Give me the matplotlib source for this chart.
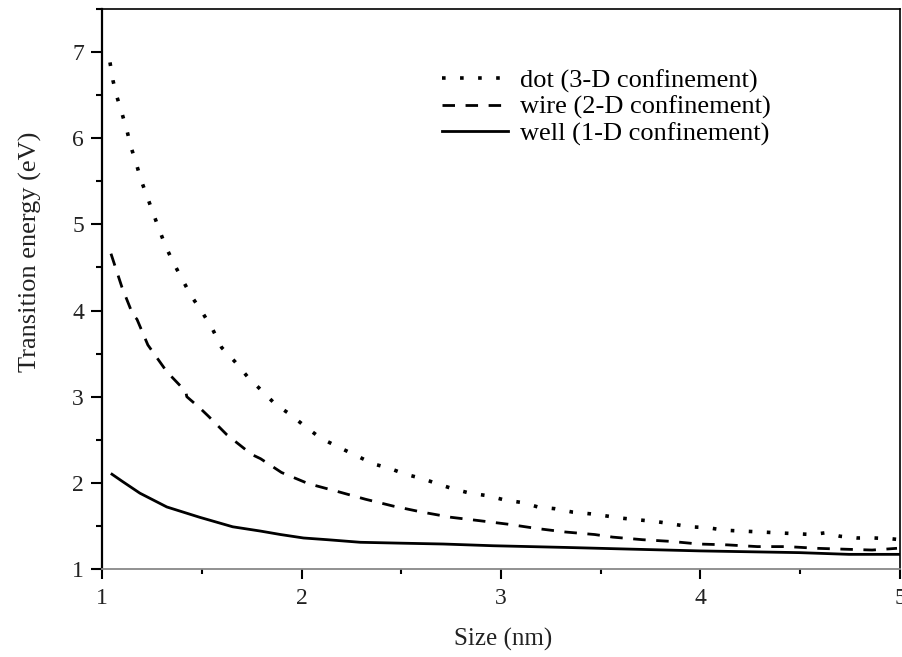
import matplotlib
matplotlib.use("Agg")
import matplotlib.pyplot as plt
from matplotlib.ticker import MultipleLocator

plt.rcParams['font.family'] = ['Liberation Serif', 'DejaVu Serif']

# dot (3-D confinement)
dot_x = [1.04, 1.055, 1.075, 1.1, 1.125, 1.145, 1.17, 1.195, 1.225, 1.255, 1.285, 1.32, 1.355, 1.4,
         1.45, 1.5, 1.555, 1.6, 1.665, 1.73, 1.805, 1.87, 1.94, 2.01, 2.095, 2.19, 2.28, 2.36, 2.44,
         2.52, 2.605, 2.68, 2.76, 2.845, 2.935, 3.02, 3.11, 3.185, 3.27, 3.36, 3.45, 3.515, 3.605,
         3.69, 3.78, 3.865, 3.945, 4.035, 4.12, 4.21, 4.3, 4.385, 4.475, 4.56, 4.625, 4.7, 4.785,
         4.87, 4.96, 5.0]
dot_y = [6.88, 6.67, 6.48, 6.29, 6.09, 5.9, 5.72, 5.52, 5.33, 5.14, 4.95, 4.74, 4.57, 4.37,
         4.16, 3.99, 3.78, 3.57, 3.41, 3.23, 3.06, 2.91, 2.8, 2.67, 2.52, 2.41, 2.31, 2.22, 2.17,
         2.1, 2.05, 1.99, 1.93, 1.88, 1.85, 1.8, 1.77, 1.72, 1.7, 1.66, 1.64, 1.62, 1.59,
         1.57, 1.55, 1.52, 1.49, 1.48, 1.45, 1.44, 1.43, 1.42, 1.41, 1.4, 1.42, 1.38, 1.36,
         1.36, 1.35, 1.34]

# wire (2-D confinement)
wire_x = [1.045, 1.1, 1.155, 1.175, 1.23, 1.325, 1.395, 1.42, 1.425, 1.49, 1.535, 1.625, 1.75,
          1.795, 1.9, 2.035, 2.18, 2.32, 2.46, 2.605, 2.75, 2.895, 3.035, 3.18, 3.32, 3.47, 3.56,
          3.71, 3.855, 3.99, 4.135, 4.285, 4.435, 4.585, 4.72, 4.86, 4.985]
wire_y = [4.66, 4.27, 3.95, 3.9, 3.6, 3.29, 3.12, 3.06, 3.0, 2.87, 2.77, 2.56, 2.33,
          2.28, 2.12, 1.99, 1.9, 1.81, 1.73, 1.66, 1.6, 1.56, 1.52, 1.47, 1.43, 1.4, 1.37,
          1.34, 1.32, 1.29, 1.28, 1.26, 1.26, 1.24, 1.23, 1.22, 1.24]

# well (1-D confinement)
well_x = [1.05, 1.1, 1.19, 1.325, 1.49, 1.655, 1.795, 1.895, 2.01, 2.13, 2.295, 2.495, 2.71,
          2.96, 3.33, 3.66, 4.0, 4.245, 4.495, 4.745, 4.995]
well_y = [2.1, 2.02, 1.88, 1.72, 1.6, 1.49, 1.44, 1.4, 1.36, 1.34, 1.31, 1.3, 1.29,
          1.27, 1.25, 1.23, 1.21, 1.2, 1.19, 1.17, 1.17]

labels = ['dot (3-D confinement)', 'wire (2-D confinement)', 'well (1-D confinement)']

fig = plt.figure(figsize=(9.02, 6.57), dpi=100)
ax = fig.add_axes([102/902, 88/657, 798/902, 560/657])

ax.plot(dot_x, dot_y, color='black', lw=2.6, linestyle=(0, (1.0, 4.0)), label=labels[0])
ax.plot(wire_x, wire_y, color='black', lw=2.0, linestyle=(0, (4.5, 3.8)), label=labels[1])
ax.plot(well_x, well_y, color='black', lw=2.0, label=labels[2])

ax.set_xlim(1, 5)
ax.set_ylim(1, 7.5)
ax.xaxis.set_major_locator(MultipleLocator(1))
ax.xaxis.set_minor_locator(MultipleLocator(0.5))
ax.yaxis.set_major_locator(MultipleLocator(1))
ax.yaxis.set_minor_locator(MultipleLocator(0.5))
ax.set_yticks([1, 2, 3, 4, 5, 6, 7])

ax.tick_params(axis='y', which='major', direction='out', length=8, width=1.5, pad=5,
               labelsize=17, labelcolor='#222222')
ax.tick_params(axis='y', which='minor', direction='out', length=4, width=1.5)
ax.tick_params(axis='x', which='major', direction='out', length=7, width=1.5, pad=7,
               labelsize=17, labelcolor='#222222')
ax.tick_params(axis='x', which='minor', direction='out', length=3.5, width=1.5)

ax.spines['left'].set_linewidth(1.6)
ax.spines['top'].set_linewidth(1.2)
ax.spines['right'].set_linewidth(1.2)
ax.spines['bottom'].set_color('#888888')
ax.spines['bottom'].set_linewidth(1.3)

ax.set_xlabel('Size (nm)', fontsize=18, color='#222222')
ax.set_ylabel('Transition energy (eV)', fontsize=19, color='#222222')
ax.xaxis.set_label_coords(0.503, -0.105)
ax.yaxis.set_label_coords(-0.075, 0.566)

ax.legend(loc='upper left', bbox_to_anchor=(0.426, 0.893), frameon=False, fontsize=19,
          handlelength=2.5, handletextpad=0.45, labelspacing=0.1, borderpad=0, borderaxespad=0)

fig.savefig('out.png', dpi=100)
